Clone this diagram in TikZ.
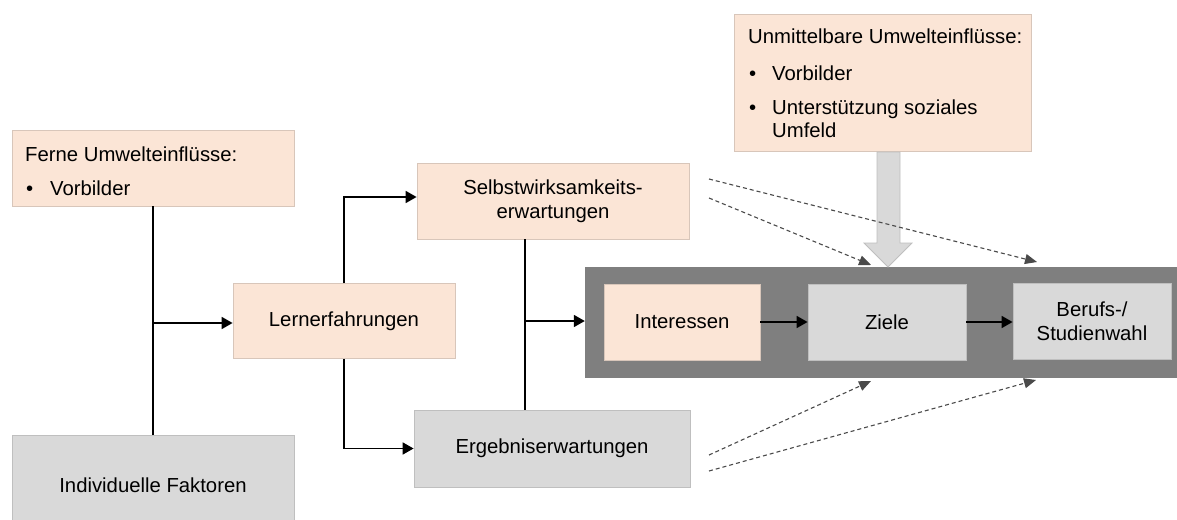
\documentclass[tikz,border=0pt]{standalone}
\usepackage{fontspec}
\setmainfont{Liberation Sans}
\usetikzlibrary{arrows.meta}
\definecolor{peach}{HTML}{FBE5D6}
\definecolor{peachline}{HTML}{D8C6BA}
\definecolor{lgrey}{HTML}{D9D9D9}
\definecolor{lgreyline}{HTML}{BFBFBF}
\definecolor{band}{HTML}{7F7F7F}
\definecolor{dashc}{HTML}{4A4A4A}
\tikzset{
  txt/.style={font=\fontsize{20.3}{23.5}\selectfont},
  pbox/.style={txt, draw=peachline, fill=peach, line width=0.8pt, inner sep=0pt, align=center},
  gbox/.style={txt, draw=lgreyline, fill=lgrey, line width=0.8pt, inner sep=0pt, align=center},
  conn/.style={draw=black, line width=1.7pt},
  arr/.style={conn, -{Triangle[length=11pt,width=12pt]}},
  darr/.style={draw=dashc, line width=1.1pt, dash pattern=on 4pt off 3pt, -{Triangle[length=12pt,width=10pt]}},
  ltxt/.style={txt, anchor=base west, inner sep=0pt},
}
\begin{document}
\begin{tikzpicture}[x=1pt,y=-1pt]
\clip (0,0) rectangle (1177,519);
\fill[white] (0,0) rectangle (1177,519);

% boxes
\node[pbox, minimum width=282pt, minimum height=76pt] (ferne) at (153,168) {};
\node[ltxt] (fernet) at (25,161) {Ferne Umwelteinflüsse:};
\node[ltxt] (ferneb) at (26,195) {•};
\node[ltxt] (fernev) at (50,195) {Vorbilder};

\node[gbox, minimum width=282pt, minimum height=100pt] (indiv) at (153,485) {Individuelle Faktoren};
\node[pbox, minimum width=222pt, minimum height=75pt] (lern) at (344,321) {Lernerfahrungen};
\node[pbox, minimum width=272pt, minimum height=76pt] (selbst) at (553,201) {Selbstwirksamkeits-\\erwartungen};
\node[gbox, minimum width=276pt, minimum height=77pt] (ergeb) at (552,448.5) {Ergebniserwartungen};

\node[fill=band, minimum width=592pt, minimum height=111pt, inner sep=0pt] (band) at (881,322.5) {};
\node[pbox, minimum width=156pt, minimum height=76pt] (inter) at (682,322) {Interessen};
\node[gbox, minimum width=158pt, minimum height=76pt] (ziele) at (887,322) {Ziele};
\node[gbox, minimum width=158pt, minimum height=76pt] (berufs) at (1092,321) {Berufs-/\\Studienwahl};

\node[pbox, minimum width=297pt, minimum height=137pt] (unmit) at (882.5,82.5) {};
\node[ltxt] (unmitt) at (748,44) {Unmittelbare Umwelteinflüsse:};
\node[ltxt] (unmitb1) at (749,80) {•};
\node[ltxt] (unmitv) at (772,80) {Vorbilder};
\node[ltxt] (unmitb2) at (749,114) {•};
\node[ltxt] (unmitu) at (772,114) {Unterstützung soziales};
\node[ltxt] (unmitf) at (772,137) {Umfeld};

% big block arrow
\draw[draw=lgreyline, fill=lgrey, line width=0.8pt]
  (877,152) -- (900,152) -- (900,243) -- (912,243) -- (888,267) -- (864,243) -- (877,243) -- cycle;

% connectors
\draw[conn] (ferne.south) -- (indiv.north);
\coordinate (j1) at (153,323);
\draw[arr] (j1) -- (lern.west |- j1);
\coordinate (j3) at (344,197);
\draw[arr] (lern.north) -- (j3) -- (selbst.west |- j3);
\draw[arr] (lern.south) |- (ergeb.west);
\coordinate (j2) at (525,321);
\draw[conn] (selbst.south -| j2) -- (ergeb.north -| j2);
\draw[arr] (j2) -- (band.west |- j2);
\draw[arr] (inter.east) -- (ziele.west);
\draw[arr] (ziele.east) -- (berufs.west |- ziele.east);

% dashed influences
\coordinate (s1) at (709,179);
\coordinate (s2) at (709,198);
\coordinate (e1) at (709,455);
\coordinate (e2) at (709,471);
\coordinate (zt) at (871,265);
\coordinate (bt) at (1037,262);
\coordinate (zb) at (871,381);
\coordinate (bb) at (1036,380);
\draw[darr] (s1) -- (bt);
\draw[darr] (s2) -- (zt);
\draw[darr] (e1) -- (zb);
\draw[darr] (e2) -- (bb);
\end{tikzpicture}
\end{document}
